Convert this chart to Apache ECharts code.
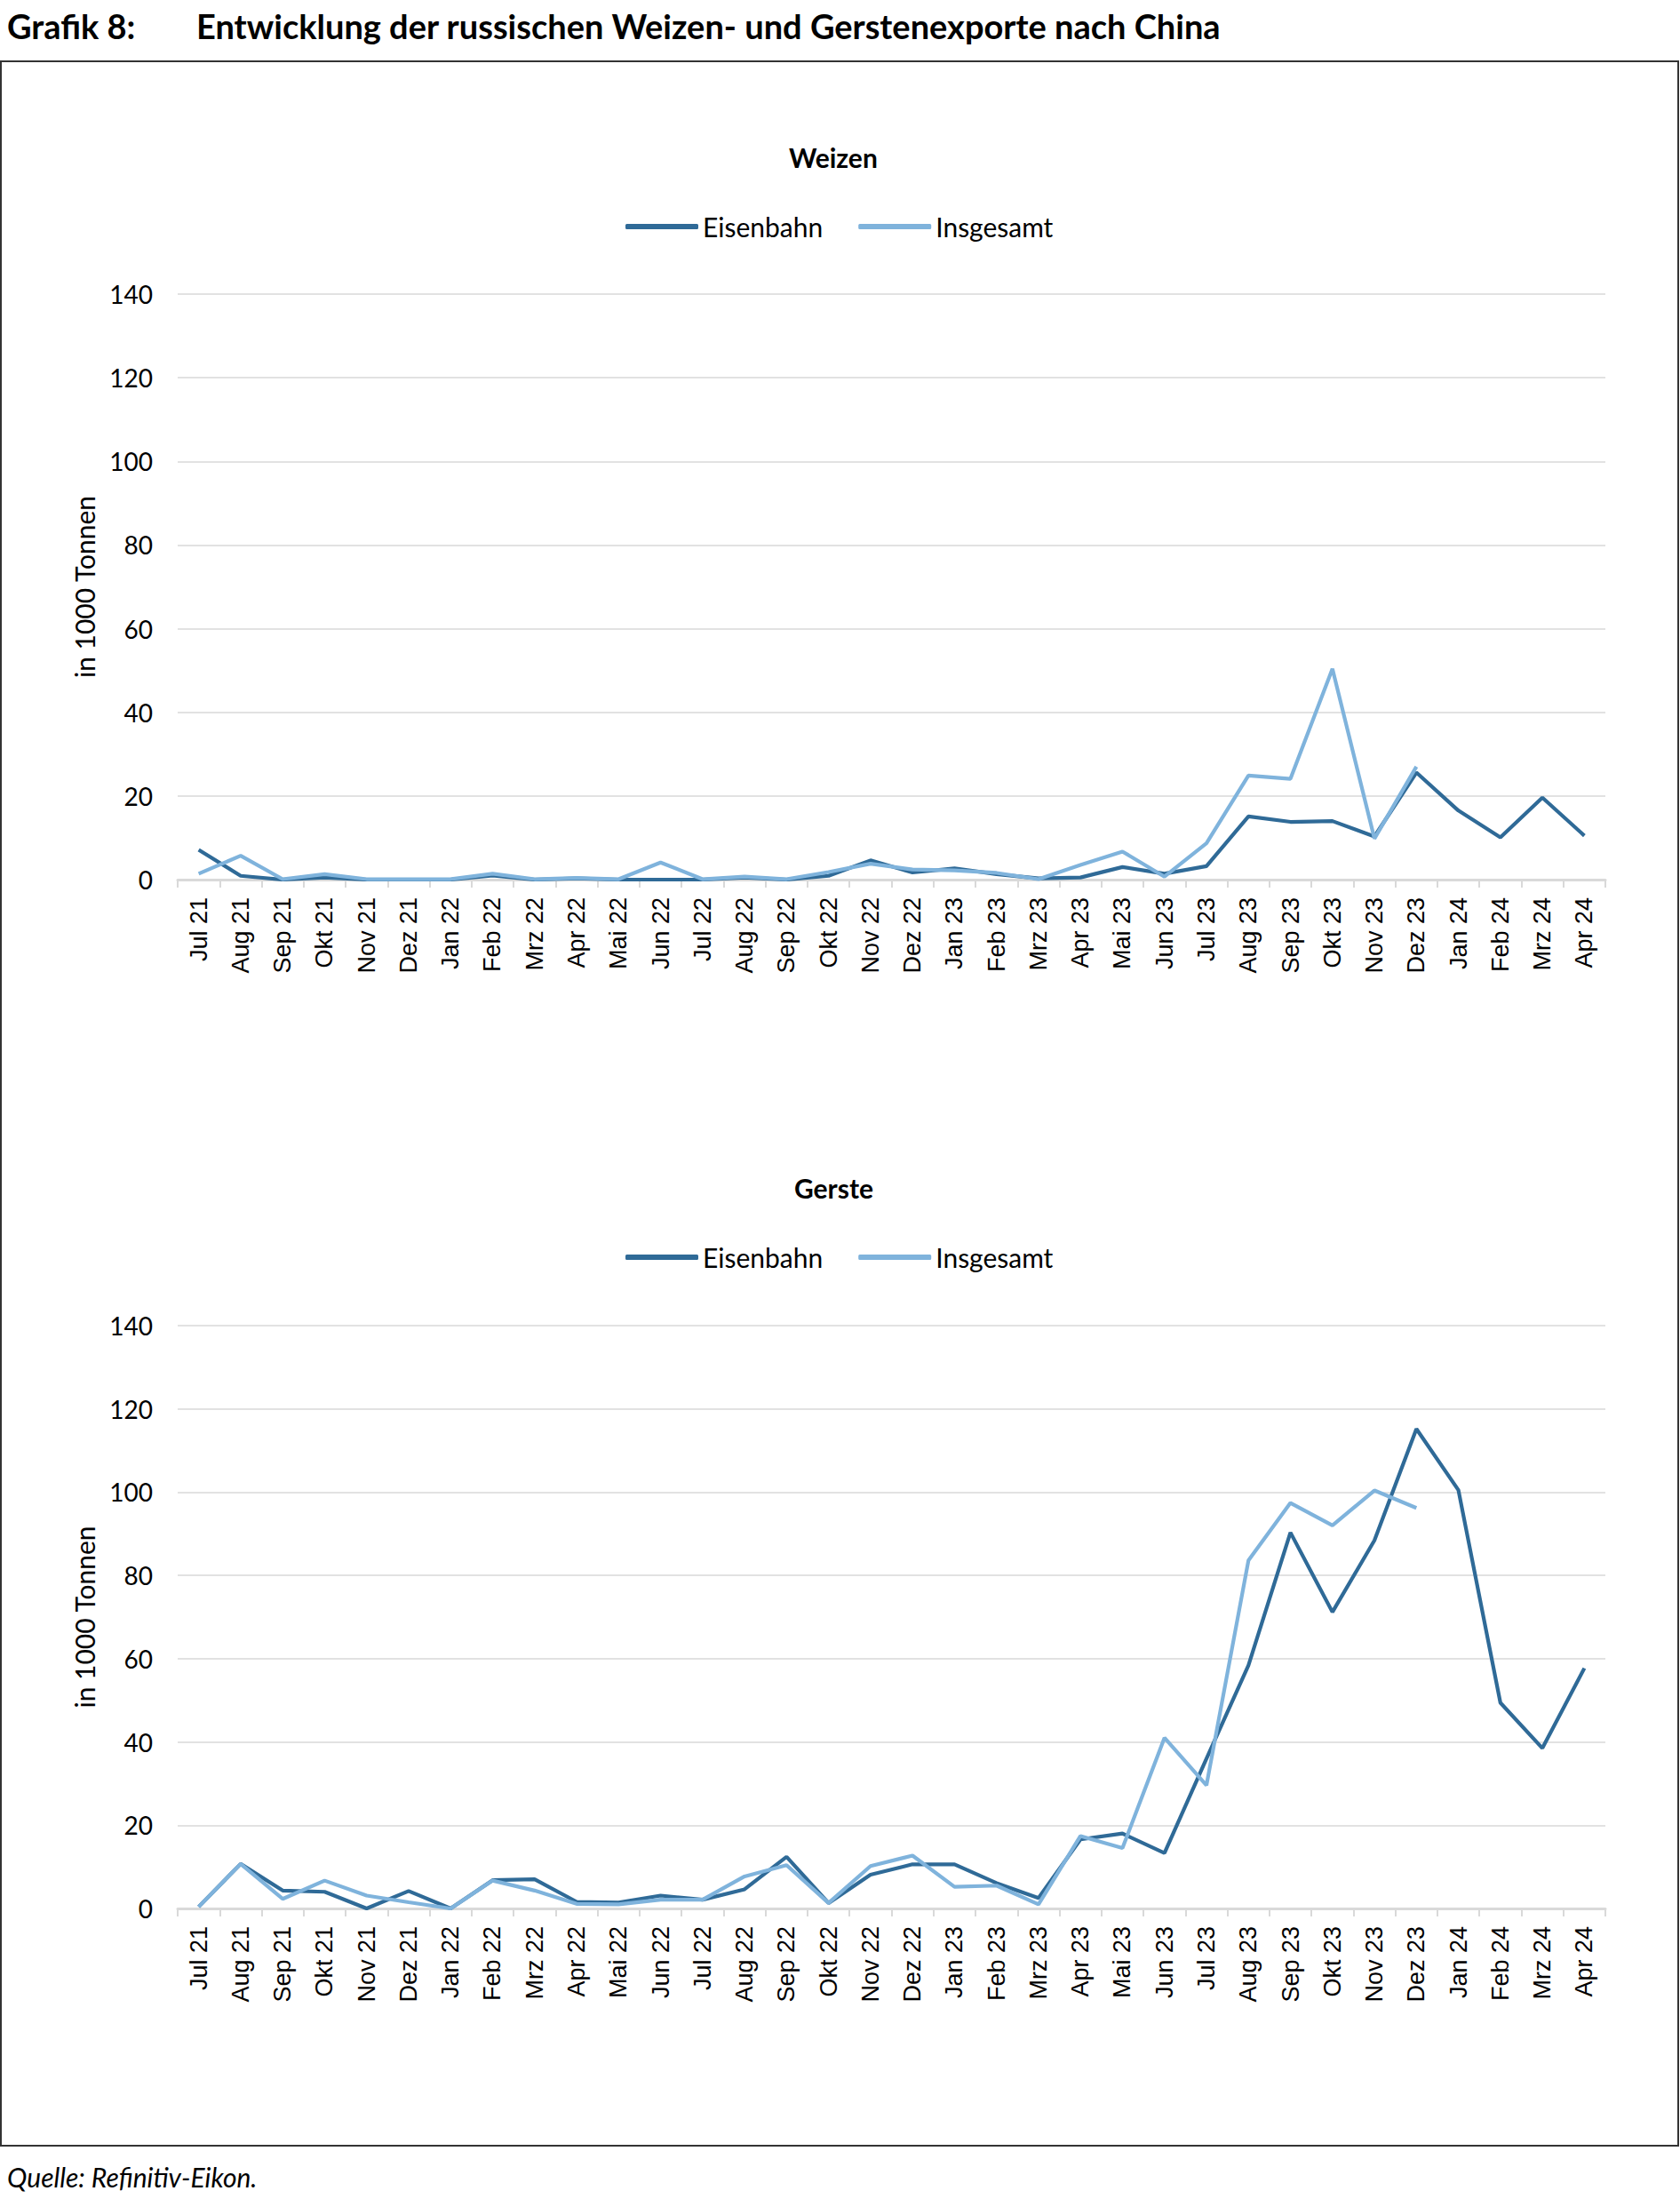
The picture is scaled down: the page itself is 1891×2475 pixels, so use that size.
<!DOCTYPE html>
<html>
<head>
<meta charset="utf-8">
<script src="https://cdn.jsdelivr.net/npm/echarts@6/dist/echarts.min.js"></script>
<style>
html,body{margin:0;padding:0;background:#fff;}
#c{width:1891px;height:2475px;}
</style>
</head>
<body>
<div id="c"></div>
<script>
const categories = ['Jul 21','Aug 21','Sep 21','Okt 21','Nov 21','Dez 21','Jan 22','Feb 22','Mrz 22','Apr 22','Mai 22','Jun 22','Jul 22','Aug 22','Sep 22','Okt 22','Nov 22','Dez 22','Jan 23','Feb 23','Mrz 23','Apr 23','Mai 23','Jun 23','Jul 23','Aug 23','Sep 23','Okt 23','Nov 23','Dez 23','Jan 24','Feb 24','Mrz 24','Apr 24'];

const weizenEisenbahn = [7.1,0.9,0,0.5,0,0,0,1.0,0,0.3,0,0,0,0.5,0,0.9,4.6,1.7,2.7,1.3,0.3,0.5,3.0,1.4,3.2,15.1,13.8,14.0,10.3,25.6,16.5,10.1,19.6,10.5];
const weizenInsgesamt = [1.4,5.7,0.1,1.3,0.1,0.1,0.1,1.4,0.1,0.4,0.1,4.1,0.1,0.7,0.1,1.8,3.8,2.4,2.2,1.6,0.1,3.5,6.7,0.7,8.7,24.9,24.1,50.4,9.8,27.0,null,null,null,null];

const gersteEisenbahn = [0.4,10.7,4.3,4.0,0,4.2,0,6.8,7.0,1.6,1.4,3.1,2.1,4.6,12.4,1.3,8.1,10.6,10.6,6.1,2.5,16.6,18.0,13.3,36.0,58.4,90.3,71.2,88.4,115.2,100.5,49.4,38.5,57.7];
const gersteInsgesamt = [0.4,10.7,2.3,6.7,3.1,1.5,0,6.7,4.3,1.1,1.0,2.1,2.1,7.7,10.4,1.3,10.2,12.7,5.2,5.5,1.0,17.4,14.5,41.0,29.6,83.6,97.4,92.0,100.4,96.2,null,null,null,null];

const yTicks = {min:0, max:140, interval:20};
const seriesNames = ['Eisenbahn','Insgesamt'];
const chartTitles = ['Weizen','Gerste'];

const COL_DARK = '#2f6a97';
const COL_LIGHT = '#7fb3dc';
const LATO = 'Lato, "Open Sans", sans-serif';
const ARIAL = '"Liberation Sans", Arial, sans-serif';

const chart = echarts.init(document.getElementById('c'), null, {renderer:'svg'});

function xAxis(gi){
  return {
    type:'category', gridIndex:gi, data:categories, boundaryGap:true,
    axisLine:{show:true, lineStyle:{color:'#d9d9d9', width:3}},
    axisTick:{show:true, alignWithLabel:false, length:9, lineStyle:{color:'#d9d9d9', width:2}},
    axisLabel:{rotate:90, interval:0, margin:20, color:'#000', fontFamily:ARIAL, fontSize:27},
    splitLine:{show:false}
  };
}
function yAxis(gi){
  return {
    type:'value', gridIndex:gi, min:yTicks.min, max:yTicks.max, interval:yTicks.interval,
    name:'in 1000 Tonnen', nameLocation:'middle', nameGap:90,
    nameTextStyle:{color:'#000', fontFamily:LATO, fontSize:30},
    axisLine:{show:false}, axisTick:{show:false},
    axisLabel:{color:'#000', fontFamily:LATO, fontSize:28, margin:28},
    splitLine:{lineStyle:{color:'#d9d9d9', width:1.5}}
  };
}
function legend(top){
  return {
    top:top, left:699,
    icon:'roundRect', itemWidth:82, itemHeight:6, itemGap:40,
    textStyle:{color:'#000', fontFamily:LATO, fontSize:30},
    data:seriesNames
  };
}
function line(name, data, color, gi){
  return {
    type:'line', name:name, data:data, xAxisIndex:gi, yAxisIndex:gi,
    symbol:'none', showSymbol:false, connectNulls:false,
    lineStyle:{color:color, width:4.2}, itemStyle:{color:color},
    animation:false
  };
}

chart.setOption({
  animation:false,
  title:[
    {text:chartTitles[0], left:883, top:157, textStyle:{fontFamily:LATO, fontWeight:'bold', fontSize:30, color:'#000'}},
    {text:chartTitles[1], left:889, top:1317, textStyle:{fontFamily:LATO, fontWeight:'bold', fontSize:30, color:'#000'}}
  ],
  legend:[legend(235), legend(1395)],
  grid:[
    {left:200, right:84, top:331, height:659, containLabel:false},
    {left:200, right:84, top:1492, height:656, containLabel:false}
  ],
  xAxis:[xAxis(0), xAxis(1)],
  yAxis:[yAxis(0), yAxis(1)],
  series:[
    line(seriesNames[0], weizenEisenbahn, COL_DARK, 0),
    line(seriesNames[1], weizenInsgesamt, COL_LIGHT, 0),
    line(seriesNames[0], gersteEisenbahn, COL_DARK, 1),
    line(seriesNames[1], gersteInsgesamt, COL_LIGHT, 1)
  ],
  graphic:[
    {type:'text', left:8, top:10, style:{text:'Grafik 8:', font:'bold 38px '+LATO, fill:'#000'}},
    {type:'text', left:221, top:10, style:{text:'Entwicklung der russischen Weizen- und Gerstenexporte nach China', font:'bold 38px '+LATO, fill:'#000'}},
    {type:'rect', shape:{x:1, y:69, width:1888, height:2346}, style:{fill:'none', stroke:'#333', lineWidth:2}, silent:true, z:-1},
    {type:'text', left:8, top:2435, style:{text:'Quelle: Refinitiv-Eikon.', font:'italic 30px '+LATO, fill:'#000'}}
  ]
});
</script>
</body>
</html>
